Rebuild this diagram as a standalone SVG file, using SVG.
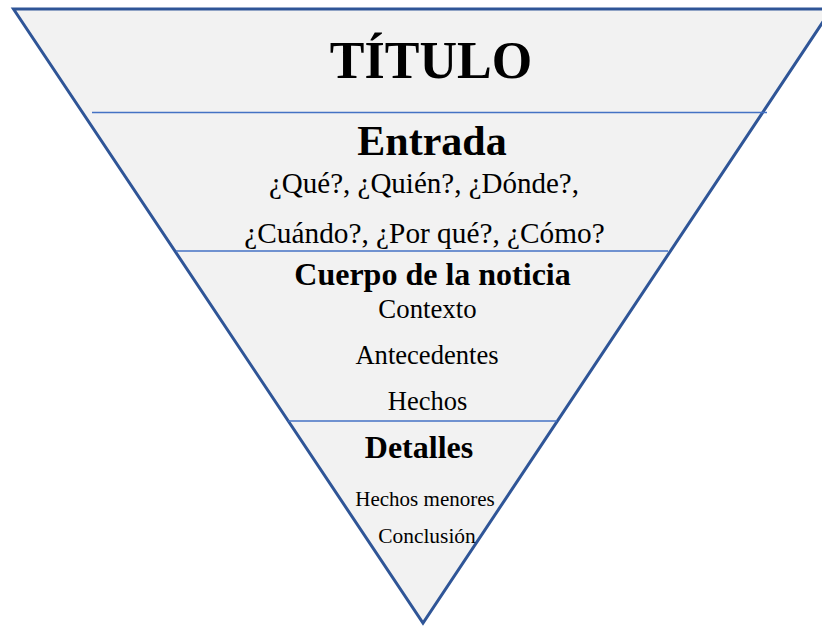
<svg xmlns="http://www.w3.org/2000/svg" width="822" height="626" viewBox="0 0 822 626">
<style>
.tri{fill:#f2f2f2;stroke:#2f5597;stroke-width:3;stroke-linejoin:miter}
.sep{stroke:#4472c4;stroke-width:1.5;fill:none}
text{font-family:"Liberation Serif","Times New Roman",serif;fill:#000;text-anchor:middle}
.b{font-weight:bold}
</style>
<rect width="822" height="626" fill="#fff"/>
<g id="triangle"><polygon class="tri" points="13.5,9 831.5,9 423,623"/></g>
<g id="connectors">
<line class="sep" x1="92" y1="112.5" x2="767" y2="112.5"/>
<line class="sep" x1="176" y1="251" x2="668" y2="251"/>
<line class="sep" x1="288" y1="421" x2="557" y2="421"/>
</g>
<g id="titulo"><text class="b" x="431" y="78" font-size="52">TÍTULO</text></g>
<g id="entrada">
<text class="b" x="432" y="155" font-size="42">Entrada</text>
<text x="424" y="193" font-size="29">¿Qué?, ¿Quién?, ¿Dónde?,</text>
<text x="424.5" y="243" font-size="29.3">¿Cuándo?, ¿Por qué?, ¿Cómo?</text>
</g>
<g id="cuerpo">
<text class="b" x="432.5" y="285" font-size="32">Cuerpo de la noticia</text>
<text x="427.5" y="318" font-size="26.8">Contexto</text>
<text x="427" y="364" font-size="26.6">Antecedentes</text>
<text x="427.5" y="410" font-size="26.5">Hechos</text>
</g>
<g id="detalles">
<text class="b" x="419" y="458" font-size="32">Detalles</text>
<text x="425" y="506" font-size="21">Hechos menores</text>
<text x="427" y="543" font-size="21.4">Conclusión</text>
</g>
</svg>
